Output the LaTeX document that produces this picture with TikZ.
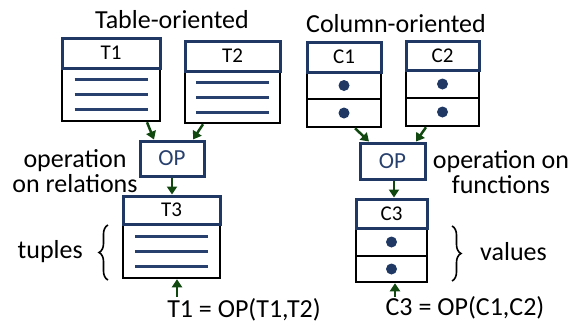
\documentclass[tikz,border=0pt]{standalone}
\usepackage{fontspec}
\setmainfont{Carlito}
\usetikzlibrary{arrows.meta,calc,decorations.pathreplacing}
\definecolor{dblue}{RGB}{31,56,100}
\definecolor{lblue}{RGB}{40,64,110}
\definecolor{dgreen}{RGB}{16,72,16}
\tikzset{
  hdr/.style={draw=dblue, line width=3pt, fill=white, inner sep=0pt, font=\fontsize{21}{21}\selectfont},
  bodybox/.style={draw=black, line width=2.5pt, inner sep=0pt},
  opbox/.style={draw=dblue, line width=3pt, inner sep=0pt, minimum width=64pt, minimum height=35pt, text=lblue, font=\fontsize{23}{23}\selectfont},
  tline/.style={draw=lblue, line width=3pt},
  arr/.style={draw=dgreen, line width=2.5pt, -{Triangle[length=8pt,width=10pt]}},
  lbl/.style={font=\fontsize{26}{25}\selectfont, inner sep=0pt, align=center},
  brc/.style={decorate, decoration={brace, amplitude=9pt}, line width=1.6pt},
  dot/.style={fill=dblue}
}
\newcommand\tuplelines[1]{%
  \foreach \dy in {-15,0,15}{\draw[tline] ($(#1.center)+(-36.5,\dy)$) -- ($(#1.center)+(36.5,\dy)$);}}
\begin{document}
\begin{tikzpicture}[x=1pt,y=-1pt]
\useasboundingbox (0,0) rectangle (573,327);
% titles
\node[lbl, anchor=base] (tt) at (172,28) {Table-oriented};
\node[lbl, anchor=base] (ct) at (396,32) {Column-oriented};
% T1
\node[bodybox, minimum width=98pt, minimum height=53pt] (T1b) at (111,94.5) {};
\node[hdr, minimum width=98pt, minimum height=30pt] (T1h) at (111,53) {T1};
\tuplelines{T1b}
% T2
\node[bodybox, minimum width=95pt, minimum height=52pt] (T2b) at (232.5,97) {};
\node[hdr, minimum width=95pt, minimum height=30pt] (T2h) at (232.5,56) {T2};
\tuplelines{T2b}
% OP left
\node[opbox] (OPL) at (172,158.5) {OP};
% T3
\node[bodybox, minimum width=97pt, minimum height=54pt] (T3b) at (171.5,251) {};
\node[hdr, minimum width=97pt, minimum height=28pt] (T3h) at (171.5,210) {T3};
\tuplelines{T3b}
% C1
\node[bodybox, minimum width=74pt, minimum height=27pt] (C1a) at (344,85.5) {};
\node[bodybox, minimum width=74pt, minimum height=28pt] (C1b) at (344,113) {};
\node[hdr, minimum width=74pt, minimum height=30pt] (C1h) at (344,57) {C1};
\fill[dot] (C1a.center) circle (5.5pt);
\fill[dot] (C1b.center) circle (5.5pt);
% C2
\node[bodybox, minimum width=73pt, minimum height=28pt] (C2a) at (442.5,84) {};
\node[bodybox, minimum width=73pt, minimum height=28pt] (C2b) at (442.5,112) {};
\node[hdr, minimum width=73pt, minimum height=29pt] (C2h) at (442.5,55.5) {C2};
\fill[dot] (C2a.center) circle (5.5pt);
\fill[dot] (C2b.center) circle (5.5pt);
% OP right
\node[opbox, minimum width=65pt, minimum height=36pt] (OPR) at (392.5,161) {OP};
% C3
\node[bodybox, minimum width=71pt, minimum height=28pt] (C3a) at (391.5,242) {};
\node[bodybox, minimum width=71pt, minimum height=26pt] (C3b) at (391.5,269) {};
\node[hdr, minimum width=71pt, minimum height=29pt] (C3h) at (391.5,213.5) {C3};
\fill[dot] (C3a.center) circle (5.5pt);
\fill[dot] (C3b.center) circle (5.5pt);
% arrows
\draw[arr] ([xshift=36pt]T1b.south) -- ([xshift=-18pt]OPL.north);
\draw[arr] ([xshift=-29.5pt]T2b.south) -- ([xshift=21pt]OPL.north);
\draw[arr] (OPL.south) -- (OPL.south |- T3h.north);
\draw[arr] ([xshift=11pt]C1b.south) -- ([xshift=-23.5pt]OPR.north);
\draw[arr] ([xshift=-16.5pt]C2b.south) -- ([xshift=23.5pt]OPR.north);
\draw[arr] ([xshift=1.5pt]OPR.south) -- ([xshift=1.5pt]OPR.south |- C3h.north);
\coordinate (b1) at (177,297);
\coordinate (b2) at (395,297);
\draw[arr] (b1) -- (b1 |- T3b.south);
\draw[arr] (b2) -- (b2 |- C3b.south);
% labels
\node[lbl] (oprel) at (75,171) {operation\\on relations};
\node[lbl] (opfun) at (501,172) {operation on\\functions};
\node[lbl, anchor=base] (f1) at (244,317) {T1 = OP(T1,T2)};
\node[lbl, anchor=base] (f2) at (465,315) {C3 = OP(C1,C2)};
% braces
\draw[brc] (108,280) -- (108,225);
\draw[brc] (452,226) -- (452,281);
\node[lbl, anchor=east] (tup) at (83,252) {tuples};
\node[lbl, anchor=west] (val) at (480,252) {values};
\end{tikzpicture}
\end{document}
